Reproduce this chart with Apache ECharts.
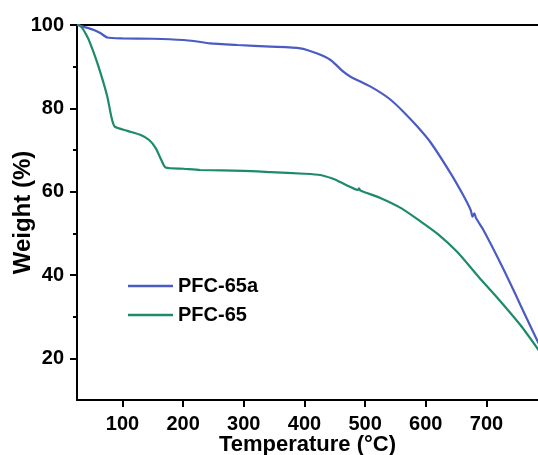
<!DOCTYPE html>
<html>
<head>
<meta charset="utf-8">
<script src="https://cdn.jsdelivr.net/npm/echarts@6/dist/echarts.min.js"></script>
<style>
  html, body { margin: 0; padding: 0; background: #fff; }
  #chart { width: 538px; height: 455px; }
</style>
</head>
<body>
<div id="chart"></div>
<script>
// TGA curves: temperature (°C) vs remaining weight (%)
const seriesNames = ['PFC-65a', 'PFC-65'];

const pfc65aTemp = [25, 35, 45, 53, 64, 75, 100, 150, 201, 220, 244, 290, 344, 393, 420, 443, 464, 476, 509, 540, 563, 585, 608, 641, 660, 674, 677, 680, 683, 695, 723, 740, 756, 770, 786];
const pfc65aWeight = [100, 99.6, 99.2, 98.8, 98.0, 97.0, 96.8, 96.7, 96.4, 96.1, 95.6, 95.2, 94.8, 94.4, 93.2, 91.6, 88.8, 87.6, 85.2, 82.3, 79.2, 75.8, 71.8, 64.4, 59.6, 55.6, 54.0, 54.8, 53.6, 50.8, 42.9, 37.8, 32.8, 28.5, 23.6];

const pfc65Temp = [25, 28, 42, 53, 64, 75, 81.6, 87.2, 108, 130, 144, 155, 164, 171, 201, 228, 300, 344, 400, 426, 445, 459, 475, 488, 490, 492, 525, 560, 590, 620, 652, 688, 720, 756, 786];
const pfc65Weight = [100, 100, 97.2, 93.2, 88.4, 82.8, 78.0, 75.6, 74.6, 73.6, 72.4, 70.4, 67.6, 65.8, 65.5, 65.2, 65.0, 64.7, 64.3, 64.0, 63.2, 62.3, 61.2, 60.4, 60.8, 60.3, 58.5, 56.0, 53.0, 49.8, 45.5, 39.4, 34.2, 28.0, 22.0];

const xTickValues = [100, 200, 300, 400, 500, 600, 700];
const yTickValues = [20, 40, 60, 80, 100];
const yMinorTickValues = [30, 50, 70, 90];

const colors = ['#4a5bc4', '#1d8a6c'];

const pairs = (xs, ys) => xs.map((x, i) => [x, ys[i]]);

const boldFont = { fontFamily: 'Liberation Sans, Arial, sans-serif', fontWeight: 'bold', color: '#000' };

const chart = echarts.init(document.getElementById('chart'), null, { renderer: 'canvas' });

chart.setOption({
  animation: false,
  backgroundColor: '#fff',
  color: colors,
  grid: { left: 77, top: 25, right: 0, bottom: 55, containLabel: false, outerBoundsMode: 'none' },
  legend: {
    orient: 'vertical',
    left: 128,
    top: 276,
    padding: 0,
    itemWidth: 45,
    itemHeight: 14,
    itemGap: 9,
    icon: 'path://M0,0 L45,0 L45,2.4 L0,2.4 Z',
    textStyle: Object.assign({ fontSize: 20, padding: [0, 0, 0, 0] }, boldFont),
    data: seriesNames
  },
  xAxis: [{
    type: 'value',
    min: 25,
    max: 785,
    name: 'Temperature (°C)',
    nameLocation: 'middle',
    nameGap: 34,
    nameMoveOverlap: false,
    nameTextStyle: Object.assign({ fontSize: 22 }, boldFont),
    axisLine: { show: true, onZero: false, lineStyle: { color: '#000', width: 2 } },
    axisTick: { show: true, customValues: xTickValues, length: 7, inside: false, lineStyle: { color: '#000', width: 2 } },
    axisLabel: Object.assign({ customValues: xTickValues, fontSize: 20, margin: 14 }, boldFont),
    splitLine: { show: false }
  }, {
    type: 'value',
    position: 'top',
    min: 25,
    max: 785,
    axisLine: { show: true, onZero: false, lineStyle: { color: '#000', width: 2 } },
    axisTick: { show: false },
    axisLabel: { show: false },
    splitLine: { show: false }
  }],
  yAxis: [{
    type: 'value',
    min: 10,
    max: 100,
    name: 'Weight (%)',
    nameLocation: 'middle',
    nameGap: 42,
    nameRotate: 90,
    nameMoveOverlap: false,
    nameTextStyle: Object.assign({ fontSize: 24 }, boldFont),
    axisLine: { show: true, onZero: false, lineStyle: { color: '#000', width: 2 } },
    axisTick: { show: true, customValues: yTickValues, length: 7, lineStyle: { color: '#000', width: 2 } },
    axisLabel: Object.assign({ customValues: yTickValues, fontSize: 20, margin: 13 }, boldFont),
    splitLine: { show: false }
  }, {
    type: 'value',
    min: 10,
    max: 100,
    position: 'left',
    axisLine: { show: false },
    axisTick: { show: true, customValues: yMinorTickValues, length: 4, lineStyle: { color: '#000', width: 2 } },
    axisLabel: { show: false },
    splitLine: { show: false }
  }],
  series: [{
    name: seriesNames[0],
    type: 'line',
    data: pairs(pfc65aTemp, pfc65aWeight),
    showSymbol: false,
    symbol: 'none',
    smooth: 0.2,
    clip: true,
    lineStyle: { width: 2.2, color: colors[0] }
  }, {
    name: seriesNames[1],
    type: 'line',
    data: pairs(pfc65Temp, pfc65Weight),
    showSymbol: false,
    symbol: 'none',
    smooth: 0.2,
    clip: true,
    lineStyle: { width: 2.2, color: colors[1] }
  }]
});
</script>
</body>
</html>
